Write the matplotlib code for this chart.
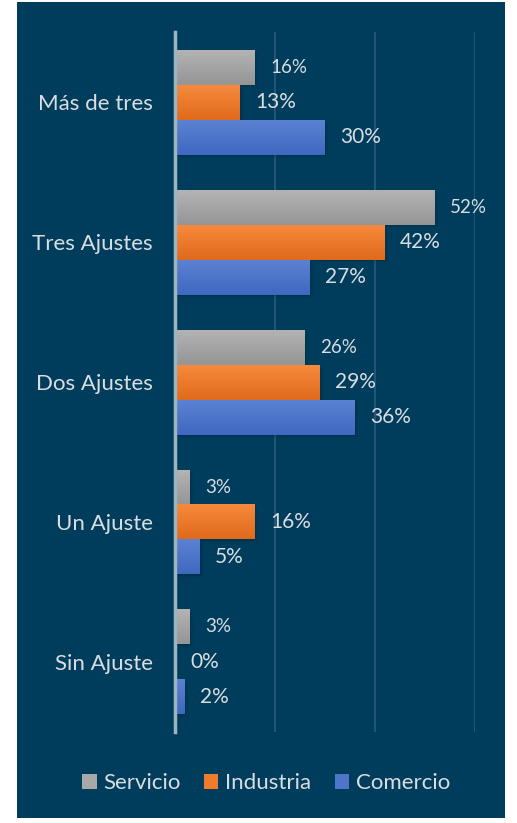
import matplotlib
matplotlib.use("Agg")
import matplotlib.pyplot as plt
import numpy as np
from matplotlib.patches import Rectangle
from matplotlib.colors import LinearSegmentedColormap

categories = ["Más de tres", "Tres Ajustes", "Dos Ajustes", "Un Ajuste", "Sin Ajuste"]
series = ["Servicio", "Industria", "Comercio"]
servicio = [16, 52, 26, 3, 3]
industria = [13, 42, 29, 16, 0]
comercio = [30, 27, 36, 5, 2]
values = [servicio, industria, comercio]

top_cols = ["#b3b3b3", "#f68a3c", "#5b82d2"]
bot_cols = ["#959595", "#e06a1c", "#3f68c0"]
legend_cols = ["#a8a8a8", "#f07b2c", "#4d76c9"]

bg = "#003d5c"
txt = "#d9dde0"
plt.rcParams['font.family'] = ['Lato', 'DejaVu Sans']

fig = plt.figure(figsize=(5.17, 8.23), dpi=100)
fig.patch.set_facecolor("white")
fig.add_artist(Rectangle((17/517, 1 - 818/823), (505-17)/517, (818-2)/823,
                         transform=fig.transFigure, facecolor=bg, edgecolor="none", zorder=0))

ax = fig.add_axes([175/517, 1 - 732/823, 300/517, 700/823])
ax.set_facecolor("none")
ax.set_xlim(0, 60)
ax.set_ylim(4.5, -0.5)

h = 0.25
offsets = [-h, 0, h]
y = np.arange(len(categories))
for k, (vals, off) in enumerate(zip(values, offsets)):
    bars = ax.barh(y + off, vals, height=h, color=legend_cols[k], zorder=2, label=series[k])
    cmap = LinearSegmentedColormap.from_list("g%d" % k, [top_cols[k], bot_cols[k]])
    for b, v in zip(bars, vals):
        if v <= 0:
            continue
        x0, y0, w, hh = b.get_x(), b.get_y(), b.get_width(), b.get_height()
        grad = np.linspace(0, 1, 64).reshape(-1, 1)
        ax.imshow(grad, cmap=cmap, aspect="auto", extent=(x0, x0 + w, y0 + hh, y0),
                  zorder=3, interpolation="bilinear")
        for i, a in enumerate([0.12, 0.08, 0.05]):
            ax.add_patch(Rectangle((x0, y0 + 0.01 * (i + 1)), w + 0.25 * (i + 1), hh,
                                   facecolor="#001a2c", alpha=a, edgecolor="none", zorder=1.5))
        b.set_visible(False)
    fs = 13.5 if k == 0 else 15
    for yy, v in zip(y + off, vals):
        ax.text(v + 3, yy, f"{v}%", color=txt, fontsize=fs, va="center", ha="left", zorder=5)

ax.set_xlim(0, 60)
ax.set_ylim(4.5, -0.5)
ax.set_xticks([0, 20, 40, 60])
ax.xaxis.grid(True, color="#2b5b79", linewidth=1.2, zorder=0)
ax.set_axisbelow(True)
ax.tick_params(axis="x", length=0, labelbottom=False)
ax.tick_params(axis="y", length=0, pad=16, labelsize=16, labelcolor=txt)
ax.set_yticks(y)
ax.set_yticklabels(categories)
for s in ["top", "right", "bottom"]:
    ax.spines[s].set_visible(False)
ax.spines["left"].set_color("#9fb2bf")
ax.spines["left"].set_linewidth(2.5)
ax.spines["left"].set_zorder(6)

handles = [Rectangle((0, 0), 1, 1, facecolor=c) for c in legend_cols]
leg = fig.legend(handles, series, loc="center", bbox_to_anchor=(266/517, 1 - 783/823),
                 ncol=3, frameon=False, fontsize=16, labelcolor=txt,
                 handlelength=0.65, handleheight=0.65, handletextpad=0.3, columnspacing=1.05)

fig.savefig("out.png", dpi=100, facecolor=fig.get_facecolor())
